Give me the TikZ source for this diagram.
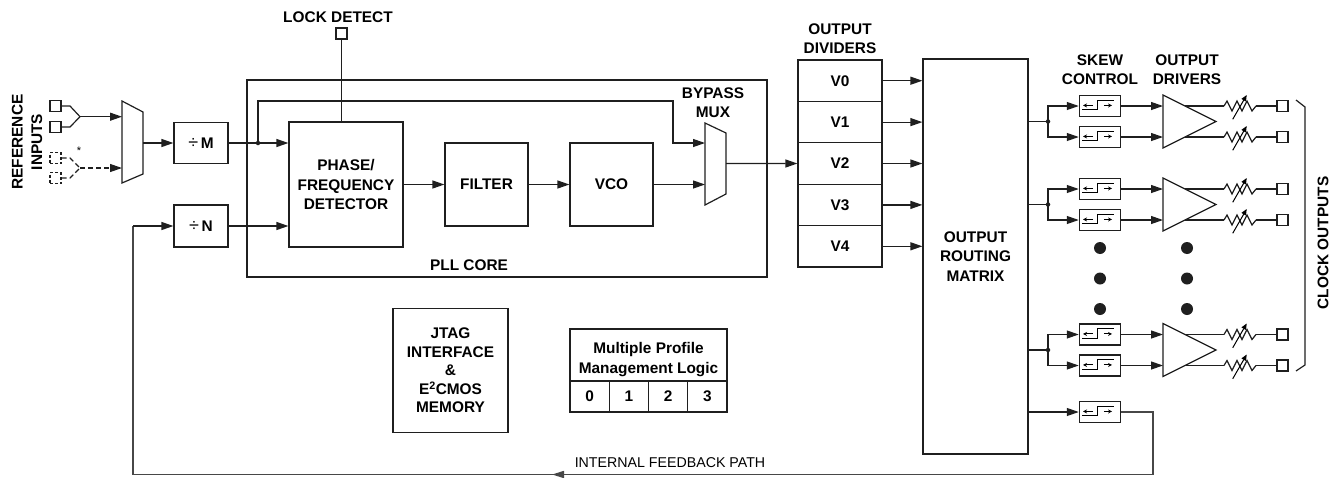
\documentclass[tikz,border=0pt]{standalone}
\usepackage{fontspec}
\setmainfont{Liberation Sans}
\usetikzlibrary{arrows.meta,calc}
\newcommand\lblfont{\fontsize{15.4}{19.5}\selectfont\bfseries}
\newcommand\jtagfont{\fontsize{15.4}{18.5}\selectfont\bfseries}
\newcommand\divsym{{\mdseries\fontsize{18}{18}\selectfont ÷}\,}
\tikzset{
  ln/.style={line width=1.2pt, draw=black!88},
  arr/.style={ln, -{Triangle[length=12pt,width=8pt]}},
  blk/.style={ln, draw, rectangle, inner sep=0pt, align=center, font=\lblfont},
  pinbox/.style={ln, draw, rectangle, minimum size=11pt, inner sep=0pt},
  dpinbox/.style={pinbox, dash pattern=on 3pt off 2pt},
  lbl/.style={font=\lblfont, align=center, inner sep=0pt},
  jdot/.style={circle, fill=black!88, inner sep=0pt, minimum size=4.5pt},
  bigdot/.style={circle, fill=black!88, inner sep=0pt, minimum size=12pt},
  skewbox/.style={blk, line width=1.5pt, minimum width=41pt, minimum height=21pt},
  fbline/.style={line width=1.6pt, draw=black!72},
  skewsym/.pic={
    \draw[line width=1pt] (3.5,15) -- (18.3,15) -- (18.3,5.7) -- (35,5.7);
    \draw[line width=1pt, -{Stealth[length=4pt,width=4pt]}] (14.3,10.7) -- (4.3,10.7);
    \draw[line width=1pt, -{Stealth[length=4pt,width=4pt]}] (25,10.7) -- (33.3,10.7);
  },
  resist/.pic={
    \draw[ln] (0,0) -- (3,-5) -- (8,5) -- (13,-5) -- (18,5) -- (23,-5) -- (28,5) -- (32,0);
    \draw[line width=1pt, -{Triangle[length=6pt,width=5pt]}] (8.7,13.3) -- (22.7,-11);
  }
}
\begin{document}
\begin{tikzpicture}[x=1pt,y=-1pt]
\useasboundingbox (0,0) rectangle (1334,477);

% ---------------- reference inputs ----------------
\node[pinbox] (r1) at (55.5,106) {};
\node[pinbox] (r2) at (55.5,127) {};
\node[dpinbox] (r3) at (55.5,158) {};
\node[dpinbox] (r4) at (55.5,178) {};
\node[lbl, rotate=90] (refl) at (27,142) {REFERENCE\\INPUTS};
\node[inner sep=0pt, font=\fontsize{11}{11}\selectfont] (ast) at (79,151) {*};

\coordinate (m1a) at (122,101);
\coordinate (m1b) at (143,112);
\coordinate (m1c) at (143,174);
\coordinate (m1d) at (122,183);
\draw[ln] (m1a) -- (m1b) -- (m1c) -- (m1d) -- cycle;
\coordinate (m1i1) at (122,116.7);
\coordinate (m1i2) at (122,168);
\coordinate (m1o) at (143,143);
\coordinate (j1) at (80,116.7);
\coordinate (j2) at (80,168);
\draw[ln] (r1.east) -- (70,106) -- (j1);
\draw[ln] (r2.east) -- (70,127) -- (j1);
\draw[arr] (j1) -- (m1i1);
\draw[ln, dash pattern=on 5pt off 3pt] (r3.east) -- (70,158) -- (j2);
\draw[ln, dash pattern=on 5pt off 3pt] (r4.east) -- (70,178) -- (j2);
\draw[arr, dash pattern=on 5pt off 3pt] (j2) -- (m1i2);

% ---------------- dividers M, N ----------------
\node[blk, minimum width=54pt, minimum height=41pt] (dm) at (201,143) {\divsym M};
\node[blk, minimum width=54pt, minimum height=42pt] (dn) at (201,226) {\divsym N};
\draw[arr] (m1o) -- (dm.west);

% ---------------- PLL core ----------------
\node[ln, draw, rectangle, inner sep=0pt, minimum width=520pt, minimum height=197pt] (pll) at (507,178.5) {};
\node[lbl] (pllt) at (469,265) {PLL CORE};
\node[blk, minimum width=114pt, minimum height=125pt] (pfd) at (346,184.5) {PHASE/\\FREQUENCY\\DETECTOR};
\node[blk, minimum width=83pt, minimum height=83pt] (filt) at (486.5,184.5) {FILTER};
\node[blk, minimum width=83pt, minimum height=83pt] (vco) at (611.5,184.5) {VCO};

\node[pinbox] (lock) at (341.5,33.5) {};
\node[lbl] (lockt) at (338,17) {LOCK DETECT};
\draw[ln] (lock.south) -- (lock.south |- pfd.north);

\coordinate (jm) at (258,143);
\draw[arr] (dm.east) -- (dm.east -| pfd.west);
\draw[arr] (dn.east) -- (dn.east -| pfd.west);
\node[jdot] (jmd) at (jm) {};

% bypass mux
\coordinate (m2a) at (705,123);
\coordinate (m2b) at (726,133);
\coordinate (m2c) at (726,194);
\coordinate (m2d) at (705,205);
\draw[ln] (m2a) -- (m2b) -- (m2c) -- (m2d) -- cycle;
\coordinate (m2i1) at (705,143);
\coordinate (m2i2) at (705,184.5);
\coordinate (m2o) at (726,163.5);
\node[lbl] (bypt) at (713,102.5) {BYPASS\\MUX};

\draw[arr] (jm) -- (258,101) -- (673,101) -- (673,143) -- (m2i1);
\draw[arr] (pfd.east) -- (filt.west);
\draw[arr] (filt.east) -- (vco.west);
\draw[arr] (vco.east) -- (m2i2);

% ---------------- output dividers ----------------
\foreach \i in {0,...,4}{
  \node[blk, minimum width=84pt, minimum height=41.4pt] (V\i) at (840,{80.7+41.4*\i}) {V\i};
}
\node[lbl] (odt) at (840,38.5) {OUTPUT\\DIVIDERS};
\draw[arr] (m2o) -- (V2.west);

% ---------------- routing matrix ----------------
\node[blk, minimum width=105pt, minimum height=395pt] (orm) at (975.5,256.5) {OUTPUT\\ROUTING\\MATRIX};
\foreach \i in {0,...,4}{
  \draw[arr] (V\i.east) -- (V\i.east -| orm.west);
}

\node[lbl] (skt) at (1100,69.5) {SKEW\\CONTROL};
\node[lbl] (drt) at (1187,69.5) {OUTPUT\\DRIVERS};

% ---------------- output groups ----------------
\foreach \g/\c in {1/121.5, 2/204.5, 3/350}{
  \coordinate (mo\g) at (1028,\c);
  \coordinate (jj\g) at (1048,\c);
  \node[skewbox] (sa\g) at (1100,{\c-15.5}) {};
  \node[skewbox] (sb\g) at (1100,{\c+15.5}) {};
  \pic at (sa\g.north west) {skewsym};
  \pic at (sb\g.north west) {skewsym};
  \draw[ln] (mo\g) -- (jj\g);
  \node[jdot] at (jj\g) {};
  \draw[arr] (jj\g) |- (sa\g.west);
  \draw[arr] (jj\g) |- (sb\g.west);
  % driver
  \coordinate (dt\g) at (1163,{\c-26.5});
  \coordinate (dp\g) at (1216,\c);
  \coordinate (db\g) at (1163,{\c+26.5});
  \draw[ln] (dt\g) -- (dp\g) -- (db\g) -- cycle;
  \coordinate (dia\g) at (1163,{\c-15.5});
  \coordinate (dib\g) at (1163,{\c+15.5});
  \draw[arr] (sa\g.east) -- (dia\g);
  \draw[arr] (sb\g.east) -- (dib\g);
  % outputs
  \coordinate (doa\g) at (1185,{\c-15.5});
  \coordinate (dob\g) at (1185,{\c+15.5});
  \coordinate (rsa\g) at (1224,{\c-15.5});
  \coordinate (rsb\g) at (1224,{\c+15.5});
  \coordinate (rea\g) at (1256,{\c-15.5});
  \coordinate (reb\g) at (1256,{\c+15.5});
  \node[pinbox] (oa\g) at (1282.5,{\c-15.5}) {};
  \node[pinbox] (ob\g) at (1282.5,{\c+15.5}) {};
  \draw[ln] (doa\g) -- (rsa\g);
  \draw[ln] (dob\g) -- (rsb\g);
  \pic at (rsa\g) {resist};
  \pic at (rsb\g) {resist};
  \draw[ln] (rea\g) -- (oa\g.west);
  \draw[ln] (reb\g) -- (ob\g.west);
}

\foreach \x in {1100,1187}{
  \foreach \y in {248,278.5,309}{
    \node[bigdot] at (\x,\y) {};
  }
}

% bracket and label
\coordinate (bk1) at (1296,100);
\coordinate (bk2) at (1305,107);
\coordinate (bk3) at (1305,365);
\coordinate (bk4) at (1296,371);
\draw[ln] (bk1) -- (bk2) -- (bk3) -- (bk4);
\node[lbl, rotate=90] (clkt) at (1323,243) {CLOCK OUTPUTS};

% ---------------- feedback ----------------
\node[skewbox] (sf) at (1100,412) {};
\pic at (sf.north west) {skewsym};
\coordinate (mof) at (1028,412);
\draw[arr] (mof) -- (sf.west);
\coordinate (fb1) at (1153,412);
\coordinate (fb2) at (1153,474.5);
\coordinate (fb3) at (133,474.5);
\draw[fbline] (sf.east) -- (fb1) -- (fb2) -- (fb3) -- (fb3 |- dn.west);
\draw[arr] (fb3 |- dn.west) -- (dn.west);
\coordinate (fbm1) at (575,474.5);
\coordinate (fbm2) at (552,474.5);
\draw[fbline, -{Triangle[length=12pt,width=7pt]}] (fbm1) -- (fbm2);
\node[inner sep=0pt, font=\fontsize{14.2}{14}\selectfont] (fbt) at (670,463) {INTERNAL FEEDBACK PATH};

% ---------------- JTAG and profiles ----------------
\node[blk, font=\jtagfont, minimum width=115pt, minimum height=124pt] (jtag) at (450.5,370.5)
  {JTAG\\INTERFACE\\\&\\E\textsuperscript{2}CMOS\\MEMORY};

\node[ln, draw, rectangle, inner sep=0pt, minimum width=157pt, minimum height=52pt] (mpt) at (648.5,355) {};
\node[lbl] (mptt) at (648.5,359.5) {Multiple Profile\\Management Logic};
\foreach \i in {0,...,3}{
  \node[blk, minimum width=39.25pt, minimum height=31pt] (p\i) at ({570+19.625+39.25*\i},396.5) {\i};
}
\end{tikzpicture}
\end{document}
